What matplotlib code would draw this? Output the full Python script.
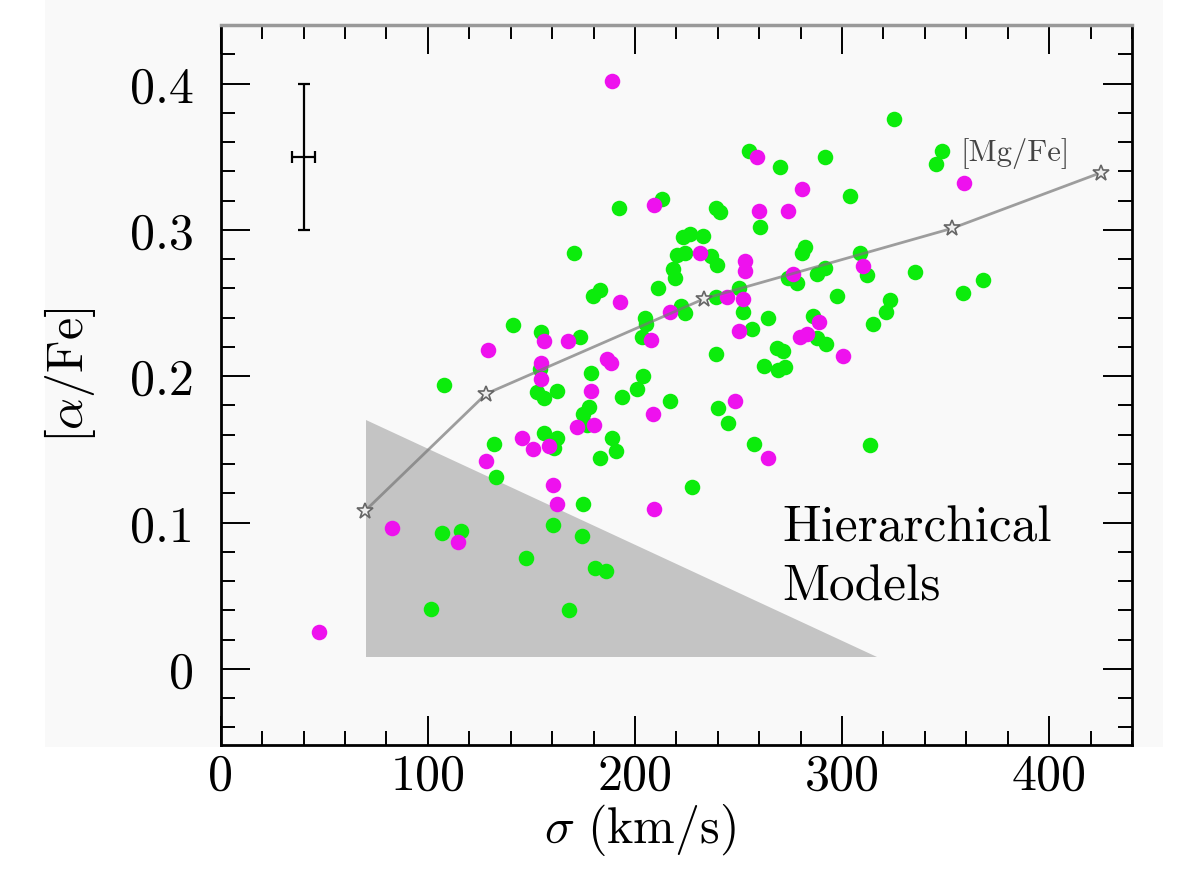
import matplotlib
matplotlib.use("Agg")
import matplotlib.pyplot as plt
from matplotlib.patches import Rectangle
from matplotlib.ticker import FixedLocator, MultipleLocator

plt.rcParams['font.family'] = ['cmr10', 'DejaVu Serif']
plt.rcParams['mathtext.fontset'] = 'cm'
plt.rcParams['axes.formatter.use_mathtext'] = True

# galaxies, green sample
green_sigma = [192.4, 170.7, 183.2, 179.9, 141.2, 255.2, 291.9, 270.2, 304.0, 213.2,
               239.3, 241.2, 260.5, 223.3, 226.7, 233.0, 220.4, 224.3, 236.9, 239.8,
               218.5, 219.5, 282.3, 280.8, 308.8, 312.2, 288.1, 291.9, 274.1, 278.4,
               211.3, 297.7, 250.4, 239.3, 222.4, 224.3, 252.3, 205.0, 264.4, 286.1,
               154.7, 173.6, 205.5, 203.5, 154.3, 178.9, 204.0, 107.9, 152.8, 156.2,
               162.5, 201.1, 193.9, 177.9, 175.0, 177.0, 156.2, 162.5, 161.0, 189.0,
               191.0, 183.2, 132.0, 133.0, 175.0, 106.9, 116.1, 160.5, 174.5, 147.5,
               180.8, 186.1, 101.6, 168.3, 227.7, 217.1, 239.3, 256.7, 268.7, 271.6,
               262.5, 269.2, 272.6, 288.1, 292.4, 315.1, 321.4, 323.3, 240.2, 245.1,
               257.6, 313.7, 325.3, 348.5, 345.5, 335.4, 368.3, 358.6]
green_afe = [0.315, 0.284, 0.259, 0.255, 0.235, 0.354, 0.350, 0.343, 0.323, 0.321,
             0.315, 0.312, 0.302, 0.295, 0.297, 0.296, 0.283, 0.284, 0.282, 0.276,
             0.273, 0.267, 0.288, 0.284, 0.284, 0.269, 0.270, 0.274, 0.267, 0.264,
             0.260, 0.255, 0.260, 0.254, 0.248, 0.243, 0.244, 0.240, 0.240, 0.241,
             0.230, 0.227, 0.236, 0.227, 0.205, 0.202, 0.200, 0.194, 0.189, 0.185,
             0.190, 0.191, 0.186, 0.179, 0.174, 0.167, 0.161, 0.158, 0.151, 0.158,
             0.149, 0.144, 0.154, 0.131, 0.113, 0.093, 0.094, 0.098, 0.091, 0.076,
             0.069, 0.067, 0.041, 0.040, 0.124, 0.183, 0.215, 0.232, 0.219, 0.217,
             0.207, 0.204, 0.206, 0.226, 0.222, 0.236, 0.244, 0.252, 0.178, 0.168,
             0.154, 0.153, 0.376, 0.354, 0.345, 0.271, 0.266, 0.257]

# galaxies, magenta sample
magenta_sigma = [189.0, 192.9, 259.1, 280.8, 209.3, 260.0, 274.1, 231.5, 253.3, 253.3,
                 310.3, 276.5, 252.3, 244.6, 217.1, 289.0, 156.2, 167.8, 129.1, 207.9,
                 154.7, 154.7, 186.6, 188.6, 178.9, 208.8, 172.1, 180.3, 145.6, 150.9,
                 158.6, 128.2, 160.5, 162.5, 82.8, 114.6, 47.5, 209.3, 250.4, 264.4,
                 248.4, 279.9, 283.2, 300.6, 359.1]
magenta_afe = [0.402, 0.251, 0.350, 0.328, 0.317, 0.313, 0.313, 0.284, 0.279, 0.272,
               0.275, 0.270, 0.253, 0.254, 0.244, 0.237, 0.224, 0.224, 0.218, 0.225,
               0.209, 0.198, 0.212, 0.209, 0.190, 0.174, 0.165, 0.167, 0.158, 0.150,
               0.152, 0.142, 0.126, 0.113, 0.096, 0.087, 0.025, 0.109, 0.231, 0.144,
               0.183, 0.227, 0.229, 0.214, 0.332]

# [Mg/Fe] relation
mgfe_sigma = [69.7, 128.2, 233.5, 353.0, 424.8]
mgfe_afe = [0.108, 0.188, 0.253, 0.301, 0.339]

# hierarchical models region
model_sigma = [70, 70, 317]
model_afe = [0.17, 0.008, 0.008]

# typical error
err_sigma, err_afe = 40, 0.35
err_dsigma, err_dafe = 5.5, 0.05

xticks = [0, 100, 200, 300, 400]
xticklabels = ['0', '100', '200', '300', '400']
yticks = [0, 0.1, 0.2, 0.3, 0.4]
yticklabels = ['0', '0.1', '0.2', '0.3', '0.4']

W, H = 1198, 879
fig = plt.figure(figsize=(W / 100, H / 100), dpi=100)
fig.patch.set_facecolor('white')
# light grey panel behind the plot
fig.patches.append(Rectangle((45 / W, 1 - 748 / H), (1163 - 45) / W, 748 / H,
                             transform=fig.transFigure, facecolor='#f9f9f9',
                             edgecolor='none', zorder=-10))

ax = fig.add_axes([220.7 / W, 1 - 746 / H, (1132 - 220.7) / W, (746 - 26) / H])
ax.set_zorder(1)
ax.set_facecolor('#f9f9f9')

ax.fill(model_sigma, model_afe, color='#c4c4c4', lw=0, zorder=1)

ax.scatter(green_sigma, green_afe, s=125, color='#0cec0c', lw=0, zorder=3)
ax.scatter(magenta_sigma, magenta_afe, s=125, color='#ee11ee', lw=0, zorder=3)

ax.plot(mgfe_sigma, mgfe_afe, color='#777777', lw=2, alpha=0.7, zorder=4)
ax.plot(mgfe_sigma, mgfe_afe, ls='none', marker='*', ms=12, mfc='#eeeeee',
        mec='#666666', mew=1.2, zorder=5)
ax.text(357, 0.348, '[Mg/Fe]', fontsize=22, color='#444444', ha='left', va='baseline')

ax.errorbar(err_sigma, err_afe, xerr=err_dsigma, yerr=err_dafe, color='black',
            lw=1.6, capsize=4, capthick=1.6, zorder=5)

ax.text(271, 0.088, 'Hierarchical', fontsize=37, ha='left', va='baseline')
ax.text(271, 0.0475, 'Models', fontsize=37, ha='left', va='baseline')

ax.set_xlim(0, 440)
ax.set_ylim(-0.052, 0.44)

ax.xaxis.set_major_locator(FixedLocator(xticks))
ax.set_xticklabels(xticklabels)
ax.xaxis.set_minor_locator(MultipleLocator(20))
ax.yaxis.set_major_locator(FixedLocator(yticks))
ax.set_yticklabels(yticklabels)
ax.yaxis.set_minor_locator(MultipleLocator(0.02))

ax.tick_params(which='both', direction='in', top=True, right=True, color='black')
ax.tick_params(which='major', length=21, width=1.4, labelsize=36)
ax.tick_params(which='minor', length=10, width=1.4)
ax.tick_params(axis='x', which='major', pad=6)
ax.tick_params(axis='y', which='major', pad=19)

for side in ['left', 'bottom', 'right']:
    ax.spines[side].set_linewidth(2)
    ax.spines[side].set_color('black')
ax.spines['top'].set_linewidth(2.5)
ax.spines['top'].set_color('#999999')

fig.text(640 / W, 1 - 830 / H, r'$\sigma\ ({\rm km/s})$', fontsize=36,
         ha='center', va='center')
fig.text(70 / W, 1 - 375 / H, r'$[\alpha/{\rm Fe}]$', fontsize=36,
         ha='center', va='center', rotation=90)

fig.savefig('out.png', dpi=100, facecolor='white')
